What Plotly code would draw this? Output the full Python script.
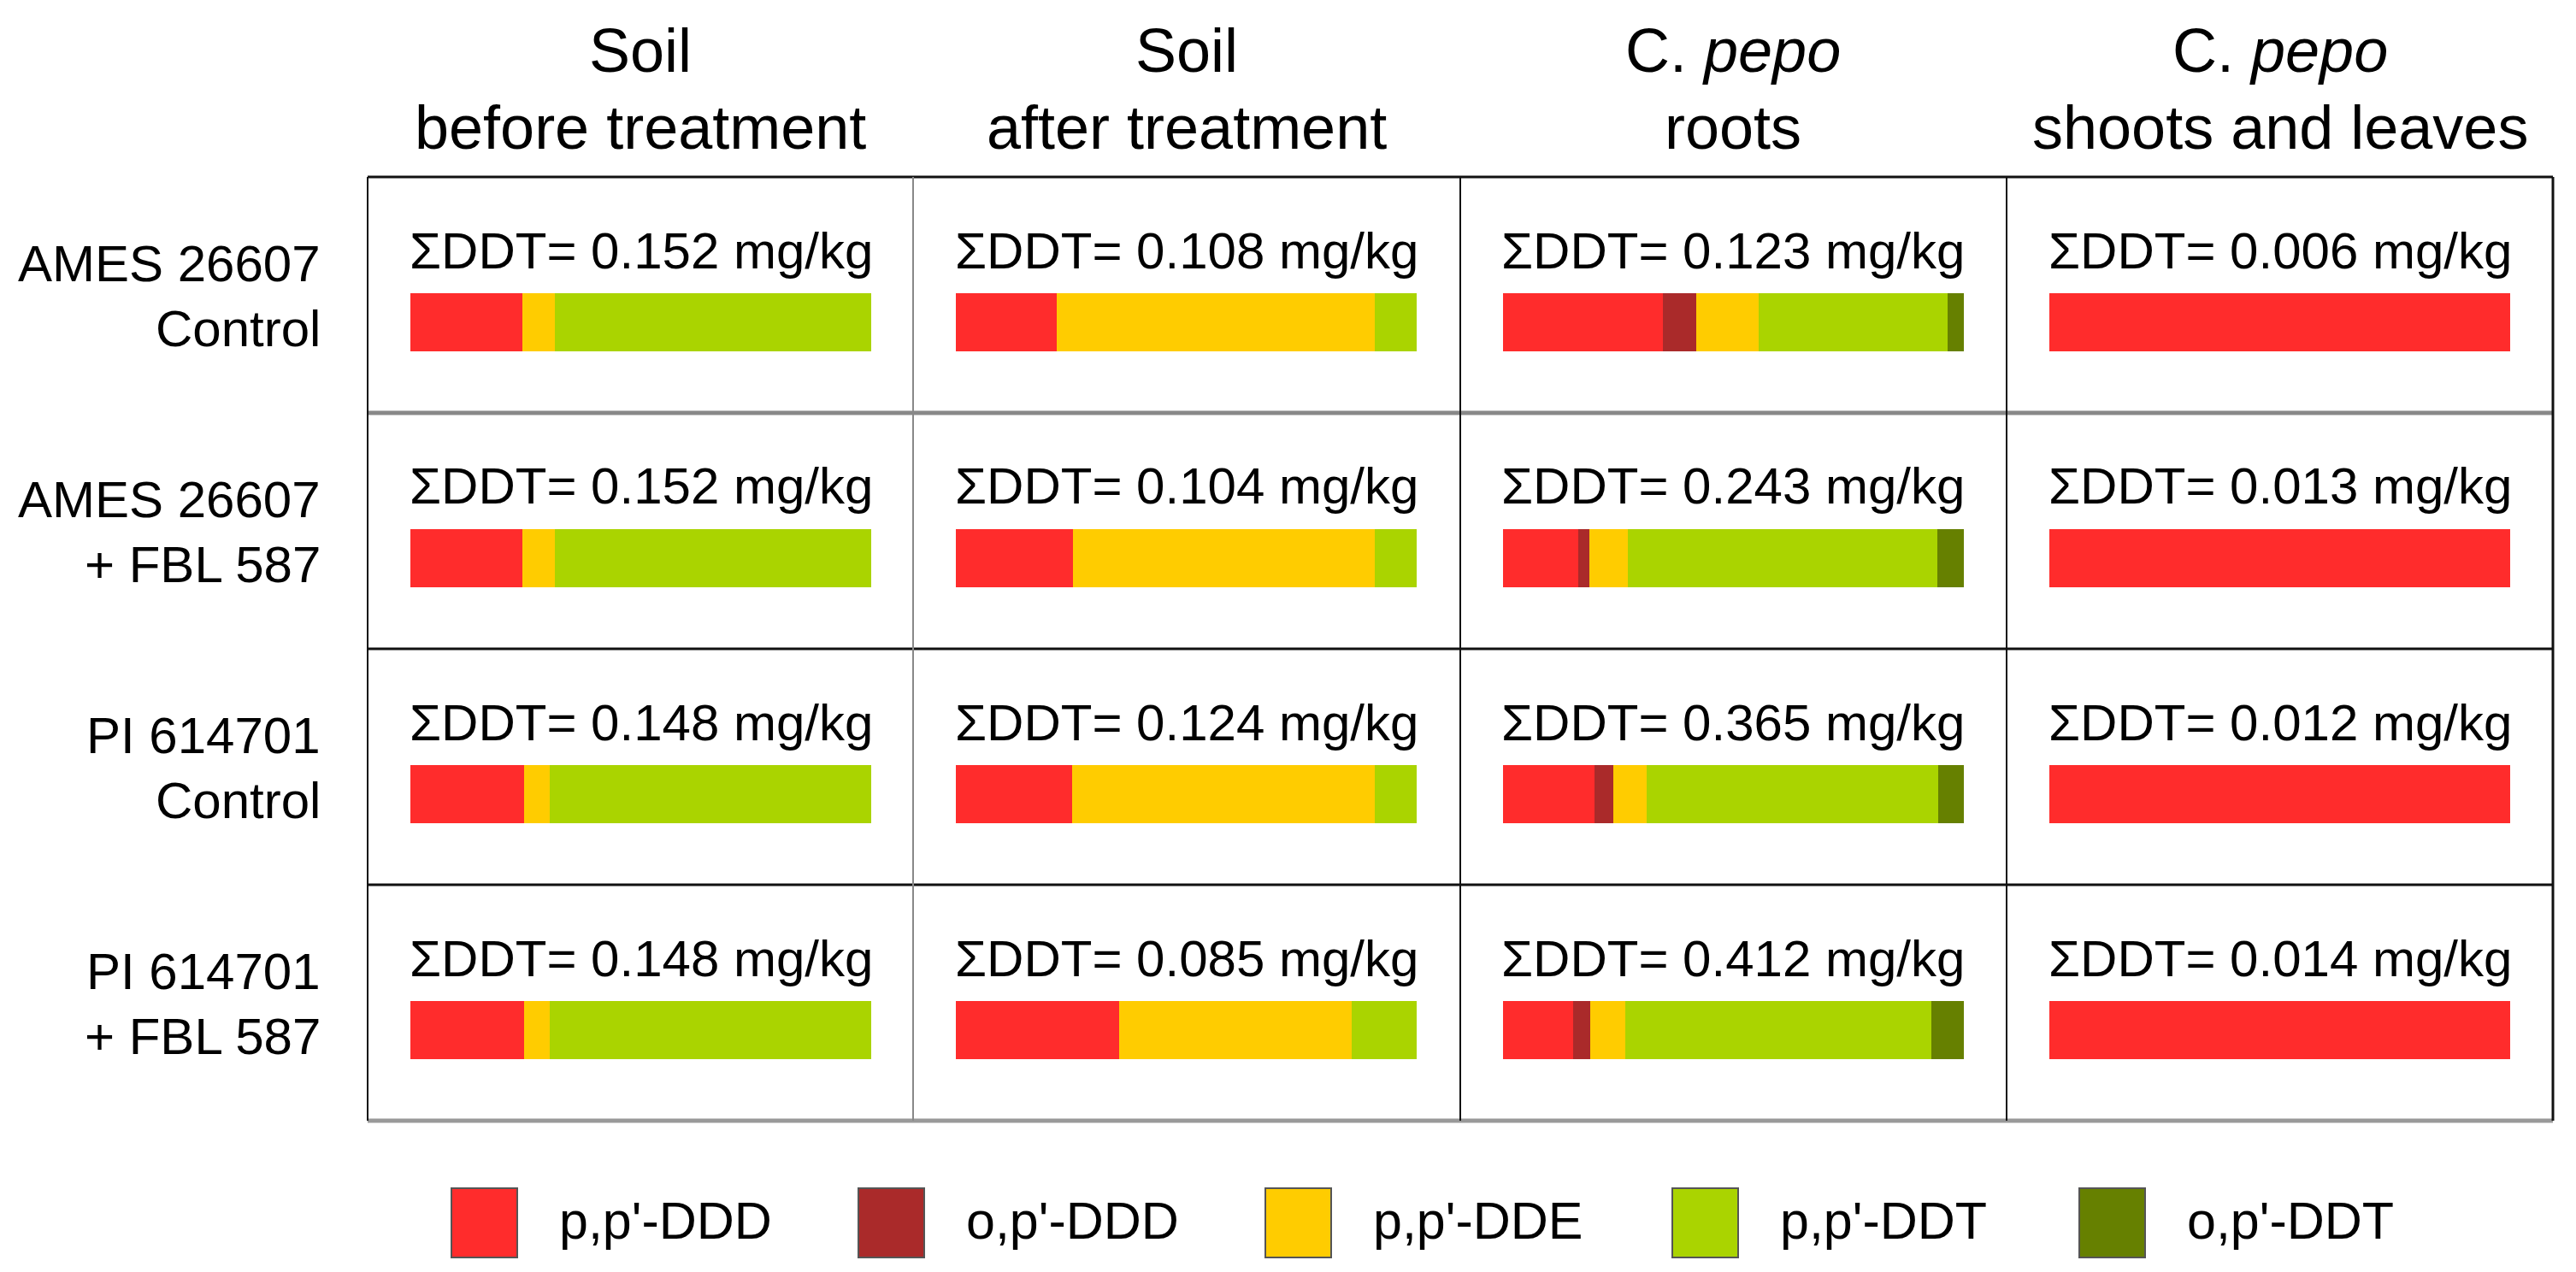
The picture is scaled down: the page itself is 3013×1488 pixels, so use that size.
import plotly.graph_objects as go

# ---------------- data ----------------
col_line1 = ["Soil", "Soil", "C. <i>pepo</i>", "C. <i>pepo</i>"]
col_line2 = ["before treatment", "after treatment", "roots", "shoots and leaves"]
row_line1 = ["AMES 26607", "AMES 26607", "PI 614701", "PI 614701"]
row_line2 = ["Control", "+ FBL 587", "Control", "+ FBL 587"]
row_keys = ["AMES_ctrl", "AMES_FBL", "PI_ctrl", "PI_FBL"]

# total DDT (mg/kg), [row][column]
total_ddt = [
    [0.152, 0.108, 0.123, 0.006],
    [0.152, 0.104, 0.243, 0.013],
    [0.148, 0.124, 0.365, 0.012],
    [0.148, 0.085, 0.412, 0.014],
]

components = ["p,p'-DDD", "o,p'-DDD", "p,p'-DDE", "p,p'-DDT", "o,p'-DDT"]
colors = ["#FF2C2C", "#AA2A2A", "#FFCC00", "#AAD400", "#668000"]

# share (%) of each component, [row][column]
pp_DDD = [
    [24.3, 21.9, 34.7, 100],
    [24.3, 25.4, 16.3, 100],
    [24.7, 25.3, 19.9, 100],
    [24.7, 35.4, 15.3, 100],
]
op_DDD = [
    [0, 0, 7.2, 0],
    [0, 0, 2.5, 0],
    [0, 0, 4.1, 0],
    [0, 0, 3.6, 0],
]
pp_DDE = [
    [7.0, 69.1, 13.5, 0],
    [7.0, 65.5, 8.2, 0],
    [5.6, 65.6, 7.1, 0],
    [5.6, 50.5, 7.6, 0],
]
pp_DDT = [
    [68.7, 9.0, 41.1, 0],
    [68.7, 9.1, 67.3, 0],
    [69.7, 9.1, 63.4, 0],
    [69.7, 14.1, 66.5, 0],
]
op_DDT = [
    [0, 0, 3.5, 0],
    [0, 0, 5.7, 0],
    [0, 0, 5.5, 0],
    [0, 0, 7.0, 0],
]
series = [pp_DDD, op_DDD, pp_DDE, pp_DDT, op_DDT]

# ---------------- layout geometry (pixels) ----------------
W, H = 3013, 1488
FONT = "Liberation Sans, Arial, sans-serif"
col_edges = [430, 1068, 1708, 2347, 2986]
row_top0, row_h = 207, 276
bar_inset, bar_w = 50, 539
bar_top_off, bar_bot_off = 136, 204


def px(x):
    return x / W


def py(y):
    return 1 - y / H


fig = go.Figure()

layout_axes = {}
for c in range(4):
    x0 = col_edges[c] + bar_inset
    name = "xaxis" if c == 0 else f"xaxis{c + 1}"
    layout_axes[name] = dict(domain=[px(x0), px(x0 + bar_w)], range=[0, 100],
                             visible=False, fixedrange=True, anchor="y")
for r in range(4):
    top = row_top0 + r * row_h
    name = "yaxis" if r == 0 else f"yaxis{r + 1}"
    layout_axes[name] = dict(domain=[py(top + bar_bot_off), py(top + bar_top_off)],
                             range=[-0.5, 0.5], type="category",
                             visible=False, fixedrange=True, anchor="x")

for r in range(4):
    for c in range(4):
        xa = "x" if c == 0 else f"x{c + 1}"
        ya = "y" if r == 0 else f"y{r + 1}"
        for s, comp in enumerate(components):
            fig.add_trace(go.Bar(
                x=[series[s][r][c]], y=[row_keys[r]], orientation="h",
                xaxis=xa, yaxis=ya, name=comp, legendgroup=comp,
                marker=dict(color=colors[s], line=dict(width=0)),
                showlegend=False, hoverinfo="name+x",
            ))

annotations = []


def label(x, y, text, size, xanchor="center"):
    annotations.append(dict(x=px(x), y=py(y), xref="paper", yref="paper",
                            text=text, showarrow=False, xanchor=xanchor,
                            yanchor="middle", align=xanchor if xanchor != "center" else "center",
                            font=dict(family=FONT, size=size, color="#000")))


# column headers
for c in range(4):
    cx = (col_edges[c] + col_edges[c + 1]) / 2
    label(cx, 59, col_line1[c], 72)
    label(cx, 149, col_line2[c], 72)

# row labels and totals
for r in range(4):
    top = row_top0 + r * row_h
    label(377, top + 101, row_line1[r], 60, "right")
    label(377, top + 177, row_line2[r], 60, "right")
    for c in range(4):
        cx = col_edges[c] + bar_inset + bar_w / 2
        label(cx, top + 86, f"ΣDDT= {total_ddt[r][c]:.3f} mg/kg", 60)

shapes = []
table_bottom = row_top0 + 4 * row_h
h_lines = [(row_top0, "#111", 3), (row_top0 + row_h, "#888", 5),
           (row_top0 + 2 * row_h, "#111", 3), (row_top0 + 3 * row_h, "#111", 3),
           (table_bottom, "#999", 5)]
for y, col, w in h_lines:
    shapes.append(dict(type="line", xref="paper", yref="paper",
                       x0=px(col_edges[0]), x1=px(col_edges[-1]), y0=py(y), y1=py(y),
                       line=dict(color=col, width=w)))
v_styles = [("#111", 2), ("#888", 2), ("#111", 2), ("#111", 2), ("#111", 3)]
for x, (col, w) in zip(col_edges, v_styles):
    shapes.append(dict(type="line", xref="paper", yref="paper",
                       x0=px(x), x1=px(x), y0=py(row_top0), y1=py(table_bottom),
                       line=dict(color=col, width=w)))

# legend (custom swatches)
leg_x0, leg_step, box_w = 528, 476, 77
leg_top, leg_bot = 1390, 1471
for i, comp in enumerate(components):
    bx = leg_x0 + i * leg_step
    shapes.append(dict(type="rect", xref="paper", yref="paper",
                       x0=px(bx), x1=px(bx + box_w), y0=py(leg_bot), y1=py(leg_top),
                       fillcolor=colors[i], line=dict(color="#555", width=2)))
    label(bx + box_w + 47, 1428, comp, 61, "left")

fig.update_layout(
    width=W, height=H, margin=dict(l=0, r=0, t=0, b=0),
    paper_bgcolor="white", plot_bgcolor="rgba(0,0,0,0)",
    barmode="stack", bargap=0, showlegend=False,
    annotations=annotations, shapes=shapes,
    **layout_axes,
)

fig.write_html("out.html", config={"displayModeBar": False},
               post_script="document.body.style.margin='0';document.body.style.overflow='hidden';")
